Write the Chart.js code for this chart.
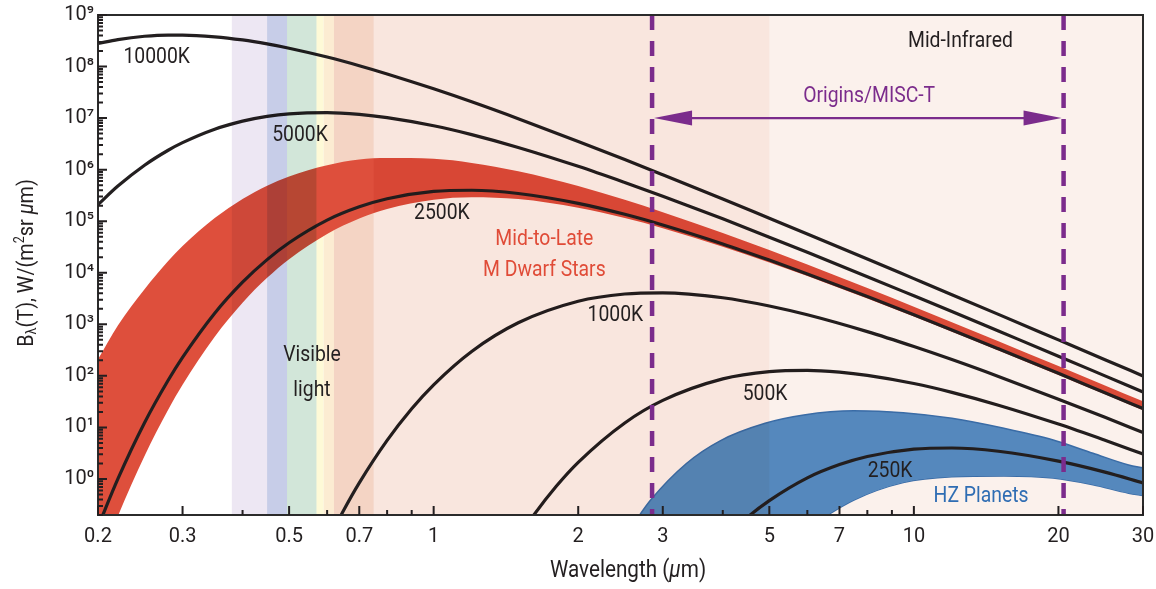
<!DOCTYPE html>
<html>
<head>
<meta charset="utf-8">
<script src="https://cdn.jsdelivr.net/npm/chart.js@4.4.1/dist/chart.umd.min.js"></script>
<style>
  html, body { margin: 0; padding: 0; background: #fff; }
</style>
</head>
<body>
<canvas id="bbChart" width="1156" height="589"></canvas>
<script>
// wavelength grid (um) shared by the hot curves and the M dwarf band
const wlHot = [0.2, 0.22, 0.25, 0.28, 0.3, 0.35, 0.4, 0.45, 0.5, 0.6, 0.7, 0.8, 1, 1.2, 1.5, 2, 2.5, 3, 4, 5, 6, 8, 10, 12, 15, 20, 25, 30];

// spectral radiance, W/(m^2 sr um)
const t10000 = [2.8e8, 3.34e8, 3.87e8, 4.08e8, 4.08e8, 3.78e8, 3.28e8, 2.75e8, 2.27e8, 1.53e8, 1.04e8, 7.2e7, 3.7e7, 2.07e7, 9.75e6, 3.53e6, 1.57e6, 7.96e5, 2.69e5, 1.14e5, 5.65e4, 1.85e4, 7.7e3, 3.76e3, 1.56e3, 499, 206, 99.8];
const t5000 = [2.1e5, 4.81e5, 1.22e6, 2.38e6, 3.34e6, 6.09e6, 8.74e6, 1.08e7, 1.21e7, 1.28e7, 1.18e7, 1.02e7, 7.1e6, 4.79e6, 2.7e6, 1.16e6, 5.64e5, 3.05e5, 1.11e5, 4.9e4, 2.49e4, 8.4e3, 3.57e3, 1.77e3, 741, 241, 100, 48.7];
const t2500 = [0.118, 1.0, 12.3, 82, 228, 1640, 6570, 1.8e4, 3.82e4, 1.05e5, 1.9e5, 2.73e5, 3.78e5, 3.99e5, 3.45e5, 2.22e5, 1.36e5, 8.44e4, 3.62e4, 1.76e4, 9.5e3, 3.45e3, 1.53e3, 778, 335, 112, 47.1, 23.2];
const mDwarfHigh = [210, 950, 4800, 1.7e4, 3.3e4, 1.15e5, 2.7e5, 4.9e5, 7.4e5, 1.22e6, 1.57e6, 1.68e6, 1.62e6, 1.35e6, 9.3e5, 4.8e5, 2.6e5, 1.5e5, 5.9e4, 2.75e4, 1.44e4, 5.05e3, 2.2e3, 1.1e3, 470, 155, 65, 32];
const mDwarfLow = [0.019, 0.19, 2.8, 22, 67, 574, 2620, 7960, 1.83e4, 5.67e4, 1.13e5, 1.73e5, 2.62e5, 2.93e5, 2.69e5, 1.83e5, 1.15e5, 7.32e4, 3.21e4, 1.59e4, 8.63e3, 3.16e3, 1.41e3, 719, 311, 104, 43.9, 21.6];

const wl1000 = [0.6, 0.65, 0.7, 0.8, 0.9, 1, 1.2, 1.5, 2, 2.5, 3, 4, 5, 6, 8, 10, 12, 15, 20, 25, 30];
const t1000 = [0.059, 0.25, 0.84, 5.6, 23, 67, 297, 1070, 2800, 3870, 4080, 3280, 2270, 1530, 721, 370, 207, 97.5, 35.3, 15.7, 7.96];

const wl500 = [1.5, 1.6, 1.8, 2, 2.5, 3, 4, 5, 6, 7, 8, 10, 12, 15, 20, 25, 30];
const t500 = [0.073, 0.176, 0.72, 2.1, 12.2, 33.4, 87.4, 121, 128, 118, 102, 71, 47.9, 27, 11.6, 5.64, 3.05];

const wl250 = [4, 4.5, 5, 6, 7, 8, 10, 12, 15, 20, 25, 30];
const t250 = [0.066, 0.18, 0.38, 1.05, 1.9, 2.73, 3.78, 3.99, 3.45, 2.22, 1.36, 0.84];

// habitable-zone planet envelope
const wlHZ = [2.6, 2.83, 3.36, 3.95, 4.9, 5.9, 7.5, 9.5, 12, 15.4, 19.5, 23.6, 28, 30];
const hzHigh = [0.13, 0.39, 2.0, 5.5, 12, 17.4, 21, 19.3, 15, 9.6, 5.7, 3.15, 1.87, 1.65];
const hzLow = [1e-5, 1e-4, 1e-3, 0.005, 0.03, 0.1, 0.39, 0.85, 1.1, 1.14, 1.04, 0.77, 0.53, 0.48];

// axis ticks
const xTicks = [0.2, 0.3, 0.5, 0.7, 1, 2, 3, 5, 7, 10, 20, 30];
const xTickLabels = ['0.2', '0.3', '0.5', '0.7', '1', '2', '3', '5', '7', '10', '20', '30'];
const xMinor = [0.4, 0.6, 0.8, 0.9, 4, 6, 8, 9];
const yTicks = [1, 10, 1e2, 1e3, 1e4, 1e5, 1e6, 1e7, 1e8, 1e9];

// spectral regions: violet, blue, green, yellow, orange, red, near-IR, mid-IR
const bandEdges = [0.38, 0.45, 0.495, 0.57, 0.59, 0.62, 0.75, 5, 30];
const bandColors = ['#ede7f3', '#c7cde8', '#d2e6d9', '#fefad7', '#fcecd2', '#f4d4c4', '#f9e6de', '#fbf1ec'];
// tints laid over the fills (true) or kept under them (false)
const bandOver = [true, true, true, false, false, false, true, true];

// instrument window
const misc = [2.85, 20.5];

const INK = '#231f20';
const PURPLE = '#7b2c8c';
const FAMILY = 'Roboto, "Liberation Sans", sans-serif';

const pts = (xs, ys) => xs.map((x, i) => ({ x: x, y: ys[i] }));
const SUP = '⁰¹²³⁴⁵⁶⁷⁸⁹';

function curve(xs, ys) {
  return {
    data: pts(xs, ys),
    borderColor: INK,
    borderWidth: 3.2,
    pointRadius: 0,
    fill: false,
    cubicInterpolationMode: 'monotone',
    order: 0,
    clip: 0
  };
}

// condensed text: squeeze horizontally around the centre point
function label(ctx, text, x, y, color, size) {
  ctx.save();
  ctx.translate(x, y);
  ctx.scale(0.88, 1);
  ctx.font = size + 'px ' + FAMILY;
  ctx.fillStyle = color;
  ctx.textAlign = 'center';
  ctx.textBaseline = 'middle';
  ctx.fillText(text, 0, 0);
  ctx.restore();
}

// text made of runs with their own size / offset / style
function runs(ctx, parts, cx, cy, color) {
  ctx.save();
  ctx.translate(cx, cy);
  ctx.scale(0.9, 1);
  let total = 0;
  parts.forEach(p => {
    ctx.font = (p.italic ? 'italic ' : '') + p.size + 'px ' + FAMILY;
    p.w = ctx.measureText(p.t).width;
    total += p.w;
  });
  let x = -total / 2;
  ctx.fillStyle = color;
  ctx.textAlign = 'left';
  ctx.textBaseline = 'middle';
  parts.forEach(p => {
    ctx.font = (p.italic ? 'italic ' : '') + p.size + 'px ' + FAMILY;
    ctx.fillText(p.t, x, p.dy || 0);
    x += p.w;
  });
  ctx.restore();
}

function drawBands(chart, over) {
  const ctx = chart.ctx;
  const a = chart.chartArea;
  const xs = chart.scales.x;
  ctx.save();
  if (over) ctx.globalCompositeOperation = 'multiply';
  for (let i = 0; i < bandColors.length; i++) {
    if (bandOver[i] !== over) continue;
    ctx.fillStyle = bandColors[i];
    const x0 = xs.getPixelForValue(bandEdges[i]), x1 = xs.getPixelForValue(bandEdges[i + 1]);
    ctx.fillRect(x0, a.top, x1 - x0, a.bottom - a.top);
  }
  ctx.restore();
}

const decor = {
  id: 'decor',
  beforeDraw(chart) {
    const ctx = chart.ctx;
    ctx.save();
    ctx.fillStyle = '#fff';
    ctx.fillRect(0, 0, chart.width, chart.height);
    ctx.restore();
  },
  beforeDatasetsDraw(chart) {
    drawBands(chart, false);
  },
  afterDatasetsDraw(chart) {
    const ctx = chart.ctx;
    const a = chart.chartArea;
    const xs = chart.scales.x, ys = chart.scales.y;
    const X = v => xs.getPixelForValue(v);
    const Y = v => ys.getPixelForValue(v);

    drawBands(chart, true);

    // dashed window limits
    ctx.save();
    ctx.strokeStyle = PURPLE;
    ctx.lineWidth = 4.5;
    ctx.setLineDash([15, 11]);
    misc.forEach(v => {
      ctx.beginPath();
      ctx.moveTo(X(v), a.top);
      ctx.lineTo(X(v), a.bottom);
      ctx.stroke();
    });
    ctx.restore();

    // double arrow between the limits
    ctx.save();
    const ya = Y(1e7), xl = X(misc[0]) + 2, xr = X(misc[1]) - 2;
    ctx.strokeStyle = PURPLE;
    ctx.fillStyle = PURPLE;
    ctx.lineWidth = 2.2;
    ctx.beginPath();
    ctx.moveTo(xl + 20, ya);
    ctx.lineTo(xr - 20, ya);
    ctx.stroke();
    ctx.beginPath();
    ctx.moveTo(xl, ya);
    ctx.lineTo(xl + 38, ya - 7.5);
    ctx.lineTo(xl + 38, ya + 7.5);
    ctx.closePath();
    ctx.fill();
    ctx.beginPath();
    ctx.moveTo(xr, ya);
    ctx.lineTo(xr - 38, ya - 7.5);
    ctx.lineTo(xr - 38, ya + 7.5);
    ctx.closePath();
    ctx.fill();
    ctx.restore();

    // frame and inward ticks
    ctx.save();
    ctx.strokeStyle = '#2b2b2b';
    ctx.lineWidth = 2;
    ctx.strokeRect(a.left, a.top, a.right - a.left, a.bottom - a.top);
    ctx.strokeStyle = INK;
    ctx.lineWidth = 2;
    ctx.beginPath();
    xTicks.forEach(v => { ctx.moveTo(X(v), a.bottom); ctx.lineTo(X(v), a.bottom - 9); });
    xMinor.forEach(v => { ctx.moveTo(X(v), a.bottom); ctx.lineTo(X(v), a.bottom - 5); });
    yTicks.forEach(v => { ctx.moveTo(a.left, Y(v)); ctx.lineTo(a.left + 9, Y(v)); });
    for (let n = -1; n < 9; n++) {
      for (let k = 2; k <= 9; k++) {
        const v = k * Math.pow(10, n);
        if (v < 0.2 || v > 1e9) continue;
        ctx.moveTo(a.left, Y(v));
        ctx.lineTo(a.left + 5, Y(v));
      }
    }
    ctx.stroke();
    ctx.restore();

    // annotations
    label(ctx, '10000K', X(0.265), Y(1.47e8), INK, 22);
    label(ctx, '5000K', X(0.527), Y(4.5e6), INK, 22);
    label(ctx, '2500K', X(1.04), Y(1.44e5), INK, 22);
    label(ctx, '1000K', X(2.39), Y(1450), INK, 22);
    label(ctx, '500K', X(4.9), Y(42.6), INK, 22);
    label(ctx, '250K', X(8.92), Y(1.37), INK, 22);
    label(ctx, 'Mid-to-Late', X(1.7), Y(4.5e4), '#e04b37', 22);
    label(ctx, 'M Dwarf Stars', X(1.7), Y(1.13e4), '#e04b37', 22);
    label(ctx, 'HZ Planets', X(13.8), Y(0.448), '#2f6db3', 22);
    label(ctx, 'Visible', X(0.558), Y(243), INK, 22);
    label(ctx, 'light', X(0.558), Y(53), INK, 22);
    label(ctx, 'Mid-Infrared', X(12.5), Y(3.0e8), INK, 22);
    label(ctx, 'Origins/MISC-T', X(8.07), Y(2.6e7), PURPLE, 22);

    // axis titles
    runs(ctx, [
      { t: 'Wavelength (', size: 23 },
      { t: 'μ', size: 23, italic: true },
      { t: 'm)', size: 23 }
    ], 628, 571, INK);
    ctx.save();
    ctx.translate(27, 263);
    ctx.rotate(-Math.PI / 2);
    runs(ctx, [
      { t: 'B', size: 22 },
      { t: 'λ', size: 14, dy: 5 },
      { t: '(T), W/(m', size: 22 },
      { t: '2', size: 14, dy: -7 },
      { t: 'sr ', size: 22 },
      { t: 'μ', size: 22, italic: true },
      { t: 'm)', size: 22 }
    ], 0, 0, INK);
    ctx.restore();
  }
};

new Chart(document.getElementById('bbChart'), {
  type: 'line',
  data: {
    datasets: [
      curve(wlHot, t10000),
      curve(wlHot, t5000),
      curve(wlHot, t2500),
      curve(wl1000, t1000),
      curve(wl500, t500),
      curve(wl250, t250),
      {
        data: pts(wlHot, mDwarfHigh),
        borderWidth: 0,
        borderColor: 'rgba(0,0,0,0)',
        backgroundColor: '#de4f3c',
        pointRadius: 0,
        cubicInterpolationMode: 'monotone',
        fill: 7,
        order: 3,
        clip: 0
      },
      {
        data: pts(wlHot, mDwarfLow),
        borderWidth: 0,
        borderColor: 'rgba(0,0,0,0)',
        pointRadius: 0,
        cubicInterpolationMode: 'monotone',
        fill: false,
        order: 3,
        clip: 0
      },
      {
        data: pts(wlHZ, hzHigh),
        borderWidth: 1.5,
        borderColor: '#3b72b4',
        backgroundColor: '#5690cc',
        pointRadius: 0,
        cubicInterpolationMode: 'monotone',
        fill: 9,
        order: 3,
        clip: 0
      },
      {
        data: pts(wlHZ, hzLow),
        borderWidth: 1.5,
        borderColor: '#3b72b4',
        pointRadius: 0,
        cubicInterpolationMode: 'monotone',
        fill: false,
        order: 3,
        clip: 0
      }
    ]
  },
  options: {
    responsive: false,
    animation: false,
    devicePixelRatio: 1,
    layout: { padding: { top: 15, right: 13, left: 0, bottom: 0 } },
    plugins: { legend: { display: false }, tooltip: { enabled: false } },
    scales: {
      x: {
        type: 'logarithmic',
        min: 0.2,
        max: 30,
        grid: { display: false, drawTicks: false },
        border: { display: false },
        afterBuildTicks: s => { s.ticks = xTicks.map(v => ({ value: v })); },
        afterFit: s => { s.height = 74; s.paddingLeft = 0; s.paddingRight = 0; },
        ticks: {
          autoSkip: false,
          maxRotation: 0,
          padding: 10,
          color: INK,
          font: { family: FAMILY, size: 20 },
          callback: (v, i) => xTickLabels[i]
        }
      },
      y: {
        type: 'logarithmic',
        min: 0.2,
        max: 1e9,
        grid: { display: false, drawTicks: false },
        border: { display: false },
        afterBuildTicks: s => { s.ticks = yTicks.map(v => ({ value: v })); },
        afterFit: s => { s.width = 98; s.paddingTop = 0; s.paddingBottom = 0; },
        ticks: {
          autoSkip: false,
          padding: 4,
          color: INK,
          font: { family: FAMILY, size: 20 },
          callback: v => '10' + SUP[Math.round(Math.log10(v))]
        }
      }
    }
  },
  plugins: [decor]
});
</script>
</body>
</html>
